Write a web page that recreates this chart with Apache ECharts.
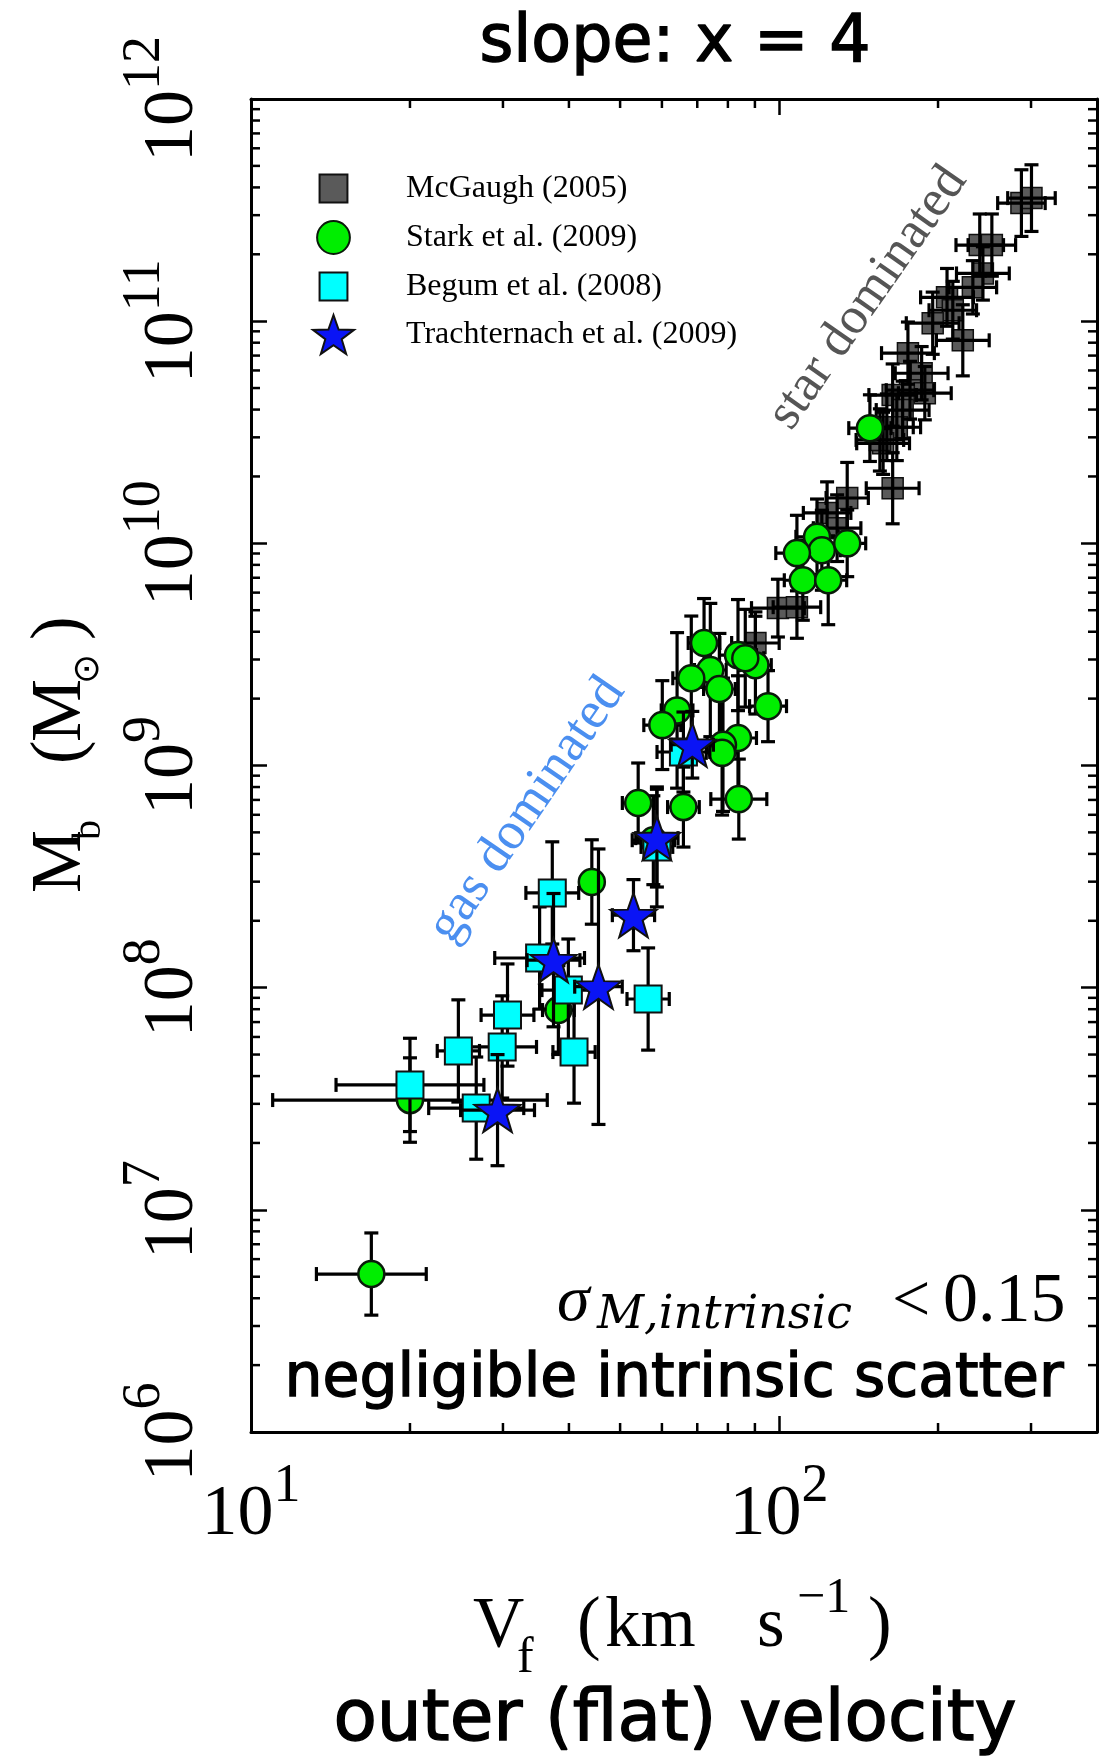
<!DOCTYPE html>
<html>
<head>
<meta charset="utf-8">
<script src="https://cdn.jsdelivr.net/npm/echarts@6/dist/echarts.min.js"></script>
<style>
  html, body { margin: 0; padding: 0; background: #fff; }
  #chart { width: 1115px; height: 1764px; }
</style>
</head>
<body>
<div id="chart"></div>
<script>
// ---- data: V_f in km/s, M_b in solar masses, errors in dex ----
const mcgaughV = [287.7, 300.6, 239.9, 252.9, 243.2, 232.8, 208.0, 213.3, 195.4, 222.8, 175.4, 186.2, 177.0, 188.8,
  164.1, 171.4, 160.0, 167.1, 157.4, 164.1, 134.6, 123.3, 128.8, 99.5, 108.1, 90.2, 155.2]
const mcgaughM = [3.40e11, 3.58e11, 2.20e11, 2.20e11, 1.64e11, 1.42e11, 1.28e11, 1.12e11, 9.79e10, 8.20e10, 7.18e10,
  5.83e10, 4.89e10, 4.74e10, 4.65e10, 3.98e10, 3.33e10, 3.33e10, 2.82e10, 1.77e10, 1.60e10, 1.37e10, 1.17e10,
  5.11e9, 5.16e9, 3.56e9, 2.92e10]
const mcgaughErrV = [0.045, 0.045, 0.045, 0.045, 0.05, 0.045, 0.05, 0.045, 0.05, 0.05, 0.05, 0.05, 0.045, 0.05,
  0.045, 0.05, 0.05, 0.045, 0.05, 0.05, 0.04, 0.045, 0.045, 0.05, 0.045, 0.045, 0.045]
const mcgaughErrM = [0.15, 0.15, 0.14, 0.14, 0.12, 0.12, 0.13, 0.13, 0.14, 0.16, 0.14, 0.12, 0.13, 0.12,
  0.14, 0.13, 0.15, 0.15, 0.14, 0.16, 0.16, 0.14, 0.15, 0.13, 0.14, 0.14, 0.14]

const starkV = [148.6, 118.0, 120.5, 134.6, 108.1, 110.9, 123.9, 72.1, 83.6, 90.2, 74.1, 68.2, 77.1, 95.3, 64.1,
  60.1, 83.6, 78.3, 78.0, 83.9, 54.1, 65.9, 57.8, 44.2, 38.2, 20.0, 86.3]
const starkM = [3.30e10, 1.07e10, 9.31e9, 1.00e10, 9.04e9, 6.82e9, 6.82e9, 3.56e9, 3.14e9, 2.83e9, 2.69e9, 2.47e9,
  2.21e9, 1.85e9, 1.77e9, 1.52e9, 1.33e9, 1.24e9, 1.14e9, 7.06e8, 6.78e8, 6.50e8, 4.61e8, 2.99e8, 7.93e7, 3.12e7, 3.04e9]
const starkErrV = [0.04, 0.04, 0.035, 0.035, 0.04, 0.035, 0.035, 0.03, 0.035, 0.03, 0.03, 0.035, 0.03, 0.035, 0.03,
  0.035, 0.035, 0.03, 0.03, 0.053, 0.03, 0.03, 0.04, 0.02, 0.03, 0.26, 0.035]
const starkErrM = [0.15, 0.17, 0.18, 0.15, 0.17, 0.18, 0.2, 0.2, 0.25, 0.22, 0.3, 0.28, 0.25, 0.16, 0.35,
  0.2, 0.28, 0.3, 0.28, 0.18, 0.18, 0.18, 0.2, 0.19, 0.2, 0.19, 0.22]

const begumV = [65.9, 58.7, 37.2, 35.2, 39.9, 56.5, 30.6, 24.7, 29.9, 40.9, 20.0, 26.7]
const begumM = [1.15e9, 4.30e8, 2.67e8, 1.36e8, 9.75e7, 8.89e7, 7.53e7, 5.19e7, 5.41e7, 5.13e7, 3.65e7, 2.87e7]
const begumErrV = [0.05, 0.03, 0.05, 0.085, 0.05, 0.04, 0.05, 0.04, 0.065, 0.04, 0.14, 0.09]
const begumErrM = [0.18, 0.27, 0.23, 0.23, 0.23, 0.23, 0.23, 0.23, 0.23, 0.23, 0.21, 0.23]

const trachV = [68.5, 58.7, 53.0, 37.4, 45.5, 29.3]
const trachM = [1.24e9, 4.71e8, 2.12e8, 1.33e8, 1.01e8, 2.81e7]
const trachErrV = [0.04, 0.04, 0.04, 0.05, 0.045, 0.07]
const trachErrM = [0.15, 0.22, 0.16, 0.3, 0.62, 0.25]

// typical error bar shown in the lower left corner
const sampleV = [16.9]
const sampleM = [5.14e6]
const sampleErrV = [0.104]
const sampleErrM = [0.185]

// axes
const xMin = 10, xMax = 400
const yMin = 1e6, yMax = 1e12
const minorMantissas = [2, 3, 4, 5, 6, 7, 8, 9]
const xDecades = [10, 100]
const yDecades = [1e6, 1e7, 1e8, 1e9, 1e10, 1e11]

const serif = 'Liberation Serif'
const comic = 'DejaVu Sans'
const starPath = 'path://M50 0L61.76 33.82L97.55 34.55L69.02 56.18L79.39 90.45L50 70L20.61 90.45L30.98 56.18L2.45 34.55L38.24 33.82Z'

const zip = (a, b) => a.map((v, i) => [v, b[i]])
const zip4 = (a, b, c, d) => a.map((v, i) => [v, b[i], c[i], d[i]])

// error bars, symmetric in dex
const errorBarItem = (params, api) => {
  const v = api.value(0), m = api.value(1)
  const f = Math.pow(10, api.value(2)), g = Math.pow(10, api.value(3))
  const l = api.coord([v / f, m]), r = api.coord([v * f, m])
  const b = api.coord([v, m / g]), t = api.coord([v, m * g])
  const cap = 7
  const style = {stroke: '#000', lineWidth: 3.2}
  const line = (x1, y1, x2, y2) => ({type: 'line', shape: {x1, y1, x2, y2}, style})
  return {
    type: 'group',
    children: [
      line(l[0], l[1], r[0], r[1]),
      line(b[0], b[1], t[0], t[1]),
      line(l[0], l[1] - cap, l[0], l[1] + cap),
      line(r[0], r[1] - cap, r[0], r[1] + cap),
      line(b[0] - cap, b[1], b[0] + cap, b[1]),
      line(t[0] - cap, t[1], t[0] + cap, t[1])
    ]
  }
}

const errSeries = (data, z) => ({
  type: 'custom', silent: true, z, clip: false,
  encode: {x: 0, y: 1},
  data, renderItem: errorBarItem
})

// minor ticks of the log axes on all four sides
const minorTickItem = (params, api) => {
  const cs = params.coordSys
  const style = {stroke: '#000', lineWidth: 2.5}
  const L = 9
  const children = []
  xDecades.forEach(d => minorMantissas.forEach(mm => {
    const v = d * mm
    if (v <= xMin || v >= xMax) return
    const px = api.coord([v, yMin])[0]
    children.push({type: 'line', shape: {x1: px, y1: cs.y + cs.height, x2: px, y2: cs.y + cs.height - L}, style})
    children.push({type: 'line', shape: {x1: px, y1: cs.y, x2: px, y2: cs.y + L}, style})
  }))
  yDecades.forEach(d => minorMantissas.forEach(mm => {
    const v = d * mm
    const py = api.coord([xMin, v])[1]
    children.push({type: 'line', shape: {x1: cs.x, y1: py, x2: cs.x + L, y2: py}, style})
    children.push({type: 'line', shape: {x1: cs.x + cs.width, y1: py, x2: cs.x + cs.width - L, y2: py}, style})
  }))
  return {type: 'group', children}
}

const powLabel = (value) => {
  const e = Math.log10(value)
  const r = Math.round(e)
  if (Math.abs(e - r) > 1e-6) return ''
  return '{b|10}{s|' + r + '}'
}
const powRich = {
  b: {fontFamily: serif, fontSize: 72, lineHeight: 72, color: '#000'},
  s: {fontFamily: serif, fontSize: 54, lineHeight: 54, color: '#000', padding: [0, 0, 57, 0]}
}

const frameAxis = (extra) => Object.assign({
  type: 'log', logBase: 10,
  axisLine: {show: true, onZero: false, lineStyle: {color: '#000', width: 3}},
  axisTick: {show: true, inside: true, length: 16, lineStyle: {color: '#000', width: 2.5}},
  splitLine: {show: false},
  minorTick: {show: false},
  minorSplitLine: {show: false}
}, extra)

const textStyle = (o) => Object.assign({
  fill: '#000', align: 'center', verticalAlign: 'middle', textAlign: 'center', textVerticalAlign: 'middle'
}, o)
// the hand-written font of the notes, a little heavier than the regular weight
const comicStyle = (text, size) => textStyle({
  text, fontFamily: comic, fontSize: size, stroke: '#000', lineWidth: 1.4
})

const chart = echarts.init(document.getElementById('chart'))

chart.setOption({
  animation: false,
  backgroundColor: '#fff',
  grid: {left: 251, right: 18, top: 99, bottom: 332, outerBoundsMode: 'none'},
  xAxis: [
    frameAxis({
      position: 'bottom', min: xMin, max: xMax,
      axisLabel: {show: true, margin: 47, formatter: powLabel, rich: powRich}
    }),
    frameAxis({position: 'top', min: xMin, max: xMax, axisLabel: {show: false}})
  ],
  yAxis: [
    frameAxis({
      position: 'left', min: yMin, max: yMax,
      axisLabel: {show: true, rotate: 90, margin: 42, formatter: powLabel, rich: powRich}
    }),
    frameAxis({position: 'right', min: yMin, max: yMax, axisLabel: {show: false}})
  ],
  legend: {
    orient: 'vertical', left: 312, top: 167, padding: 0,
    itemWidth: 41, itemHeight: 41, itemGap: 6,
    textStyle: {fontFamily: serif, fontSize: 32, color: '#000', padding: [0, 0, 0, 47]},
    data: [
      {name: 'McGaugh (2005)', icon: 'path://M0 0M100 100M16 16L84 16L84 84L16 84Z'},
      {name: 'Stark et al. (2009)', icon: 'path://M0 0M100 100M90 50A40 40 0 1 1 10 50A40 40 0 1 1 90 50Z'},
      {name: 'Begum et al. (2008)', icon: 'path://M0 0M100 100M16 16L84 16L84 84L16 84Z'},
      {name: 'Trachternach et al. (2009)', icon: starPath}
    ]
  },
  series: [
    {
      name: 'McGaugh (2005)', type: 'scatter', z: 3,
      symbol: 'rect', symbolSize: 21,
      itemStyle: {color: '#5a5a5a', borderColor: '#111', borderWidth: 1.5, opacity: 1},
      data: zip(mcgaughV, mcgaughM)
    },
    errSeries(zip4(mcgaughV, mcgaughM, mcgaughErrV, mcgaughErrM), 4),
    errSeries(zip4(starkV, starkM, starkErrV, starkErrM), 5),
    {
      name: 'Stark et al. (2009)', type: 'scatter', z: 6,
      symbol: 'circle', symbolSize: 26,
      itemStyle: {color: '#00ee00', borderColor: '#0a1a0a', borderWidth: 2.5, opacity: 1},
      data: zip(starkV, starkM)
    },
    errSeries(zip4(sampleV, sampleM, sampleErrV, sampleErrM), 5),
    {
      name: 'sample', type: 'scatter', z: 6,
      symbol: 'circle', symbolSize: 26,
      itemStyle: {color: '#00ee00', borderColor: '#0a1a0a', borderWidth: 2.5, opacity: 1},
      data: zip(sampleV, sampleM)
    },
    errSeries(zip4(begumV, begumM, begumErrV, begumErrM), 7),
    {
      name: 'Begum et al. (2008)', type: 'scatter', z: 8,
      symbol: 'rect', symbolSize: 27,
      itemStyle: {color: '#00ffff', borderColor: '#111', borderWidth: 2, opacity: 1},
      data: zip(begumV, begumM)
    },
    errSeries(zip4(trachV, trachM, trachErrV, trachErrM), 9),
    {
      name: 'Trachternach et al. (2009)', type: 'scatter', z: 10,
      symbol: starPath, symbolSize: [46, 44],
      itemStyle: {color: '#0a14f5', borderColor: '#111', borderWidth: 2, opacity: 1},
      data: zip(trachV, trachM)
    },
    {
      type: 'custom', silent: true, z: 12, clip: false,
      data: [[xMin, yMin]], encode: {x: 0, y: 1},
      renderItem: minorTickItem
    }
  ],
  graphic: [
    {type: 'text', x: 675, y: 44, z: 20, style: comicStyle('slope: x = 4', 65)},
    {
      // x axis title: V_f (km s^-1)
      type: 'text', x: 473, y: 1627, z: 20,
      style: textStyle({
        text: '{v|V}{f|f}{lp|(}{km|km}{s|s}{sup|\u22121}{rp|)}',
        align: 'left', textAlign: 'left',
        rich: {
          v: {fontFamily: serif, fontSize: 71, lineHeight: 71, color: '#000', width: 44},
          f: {fontFamily: serif, fontSize: 50, lineHeight: 50, color: '#000', width: 60, padding: [64, 0, 0, 0]},
          lp: {fontFamily: serif, fontSize: 71, lineHeight: 71, color: '#000', width: 28},
          km: {fontFamily: serif, fontSize: 71, lineHeight: 71, color: '#000', width: 152},
          s: {fontFamily: serif, fontSize: 71, lineHeight: 71, color: '#000', width: 40},
          sup: {fontFamily: serif, fontSize: 50, lineHeight: 50, color: '#000', width: 71, padding: [0, 0, 56, 0]},
          rp: {fontFamily: serif, fontSize: 71, lineHeight: 71, color: '#000'}
        }
      })
    },
    {type: 'text', x: 675, y: 1722, z: 20, style: comicStyle('outer (flat) velocity', 71)},
    {
      // y axis title: M_b (M_sun)
      type: 'text', x: 61, y: 893, rotation: Math.PI / 2, z: 20,
      style: textStyle({
        text: '{m1|M}{b|b}{lp|(}{m2|M}{sun|\u2299}{rp|)}',
        align: 'left', textAlign: 'left',
        rich: {
          m1: {fontFamily: serif, fontSize: 71, lineHeight: 71, color: '#000', width: 53},
          b: {fontFamily: serif, fontSize: 40, lineHeight: 40, color: '#000', width: 76, padding: [56, 0, 0, 0]},
          lp: {fontFamily: serif, fontSize: 71, lineHeight: 71, color: '#000', width: 22},
          m2: {fontFamily: serif, fontSize: 71, lineHeight: 71, color: '#000', width: 58},
          sun: {fontFamily: 'DejaVu Sans', fontSize: 36, lineHeight: 36, color: '#000', width: 44, padding: [56, 0, 0, 0]},
          rp: {fontFamily: serif, fontSize: 71, lineHeight: 71, color: '#000'}
        }
      })
    },
    {
      type: 'text', x: 868, y: 298, rotation: 0.96, z: 20,
      style: textStyle({text: 'star dominated', fontFamily: serif, fontSize: 52, fill: '#555555'})
    },
    {
      type: 'text', x: 527, y: 810, rotation: 0.97, z: 20,
      style: textStyle({text: 'gas dominated', fontFamily: serif, fontSize: 53, fill: '#4b8ff0'})
    },
    {
      type: 'text', x: 557, y: 1303, z: 20,
      style: textStyle({
        text: '{g|\u03c3}{sub|M,intrinsic}{lt|<}{m|0.15}',
        align: 'left', textAlign: 'left',
        rich: {
          g: {fontFamily: serif, fontStyle: 'italic', fontSize: 66, lineHeight: 64, color: '#000', width: 40},
          sub: {fontFamily: 'DejaVu Serif', fontStyle: 'italic', fontSize: 46, lineHeight: 46, color: '#000', padding: [26, 0, 0, 0], width: 295},
          lt: {fontFamily: serif, fontSize: 68, lineHeight: 64, color: '#000', width: 51},
          m: {fontFamily: serif, fontSize: 70, lineHeight: 64, color: '#000'}
        }
      })
    },
    {type: 'text', x: 674, y: 1380, z: 20, style: comicStyle('negligible intrinsic scatter', 60)}
  ]
})
</script>
</body>
</html>
